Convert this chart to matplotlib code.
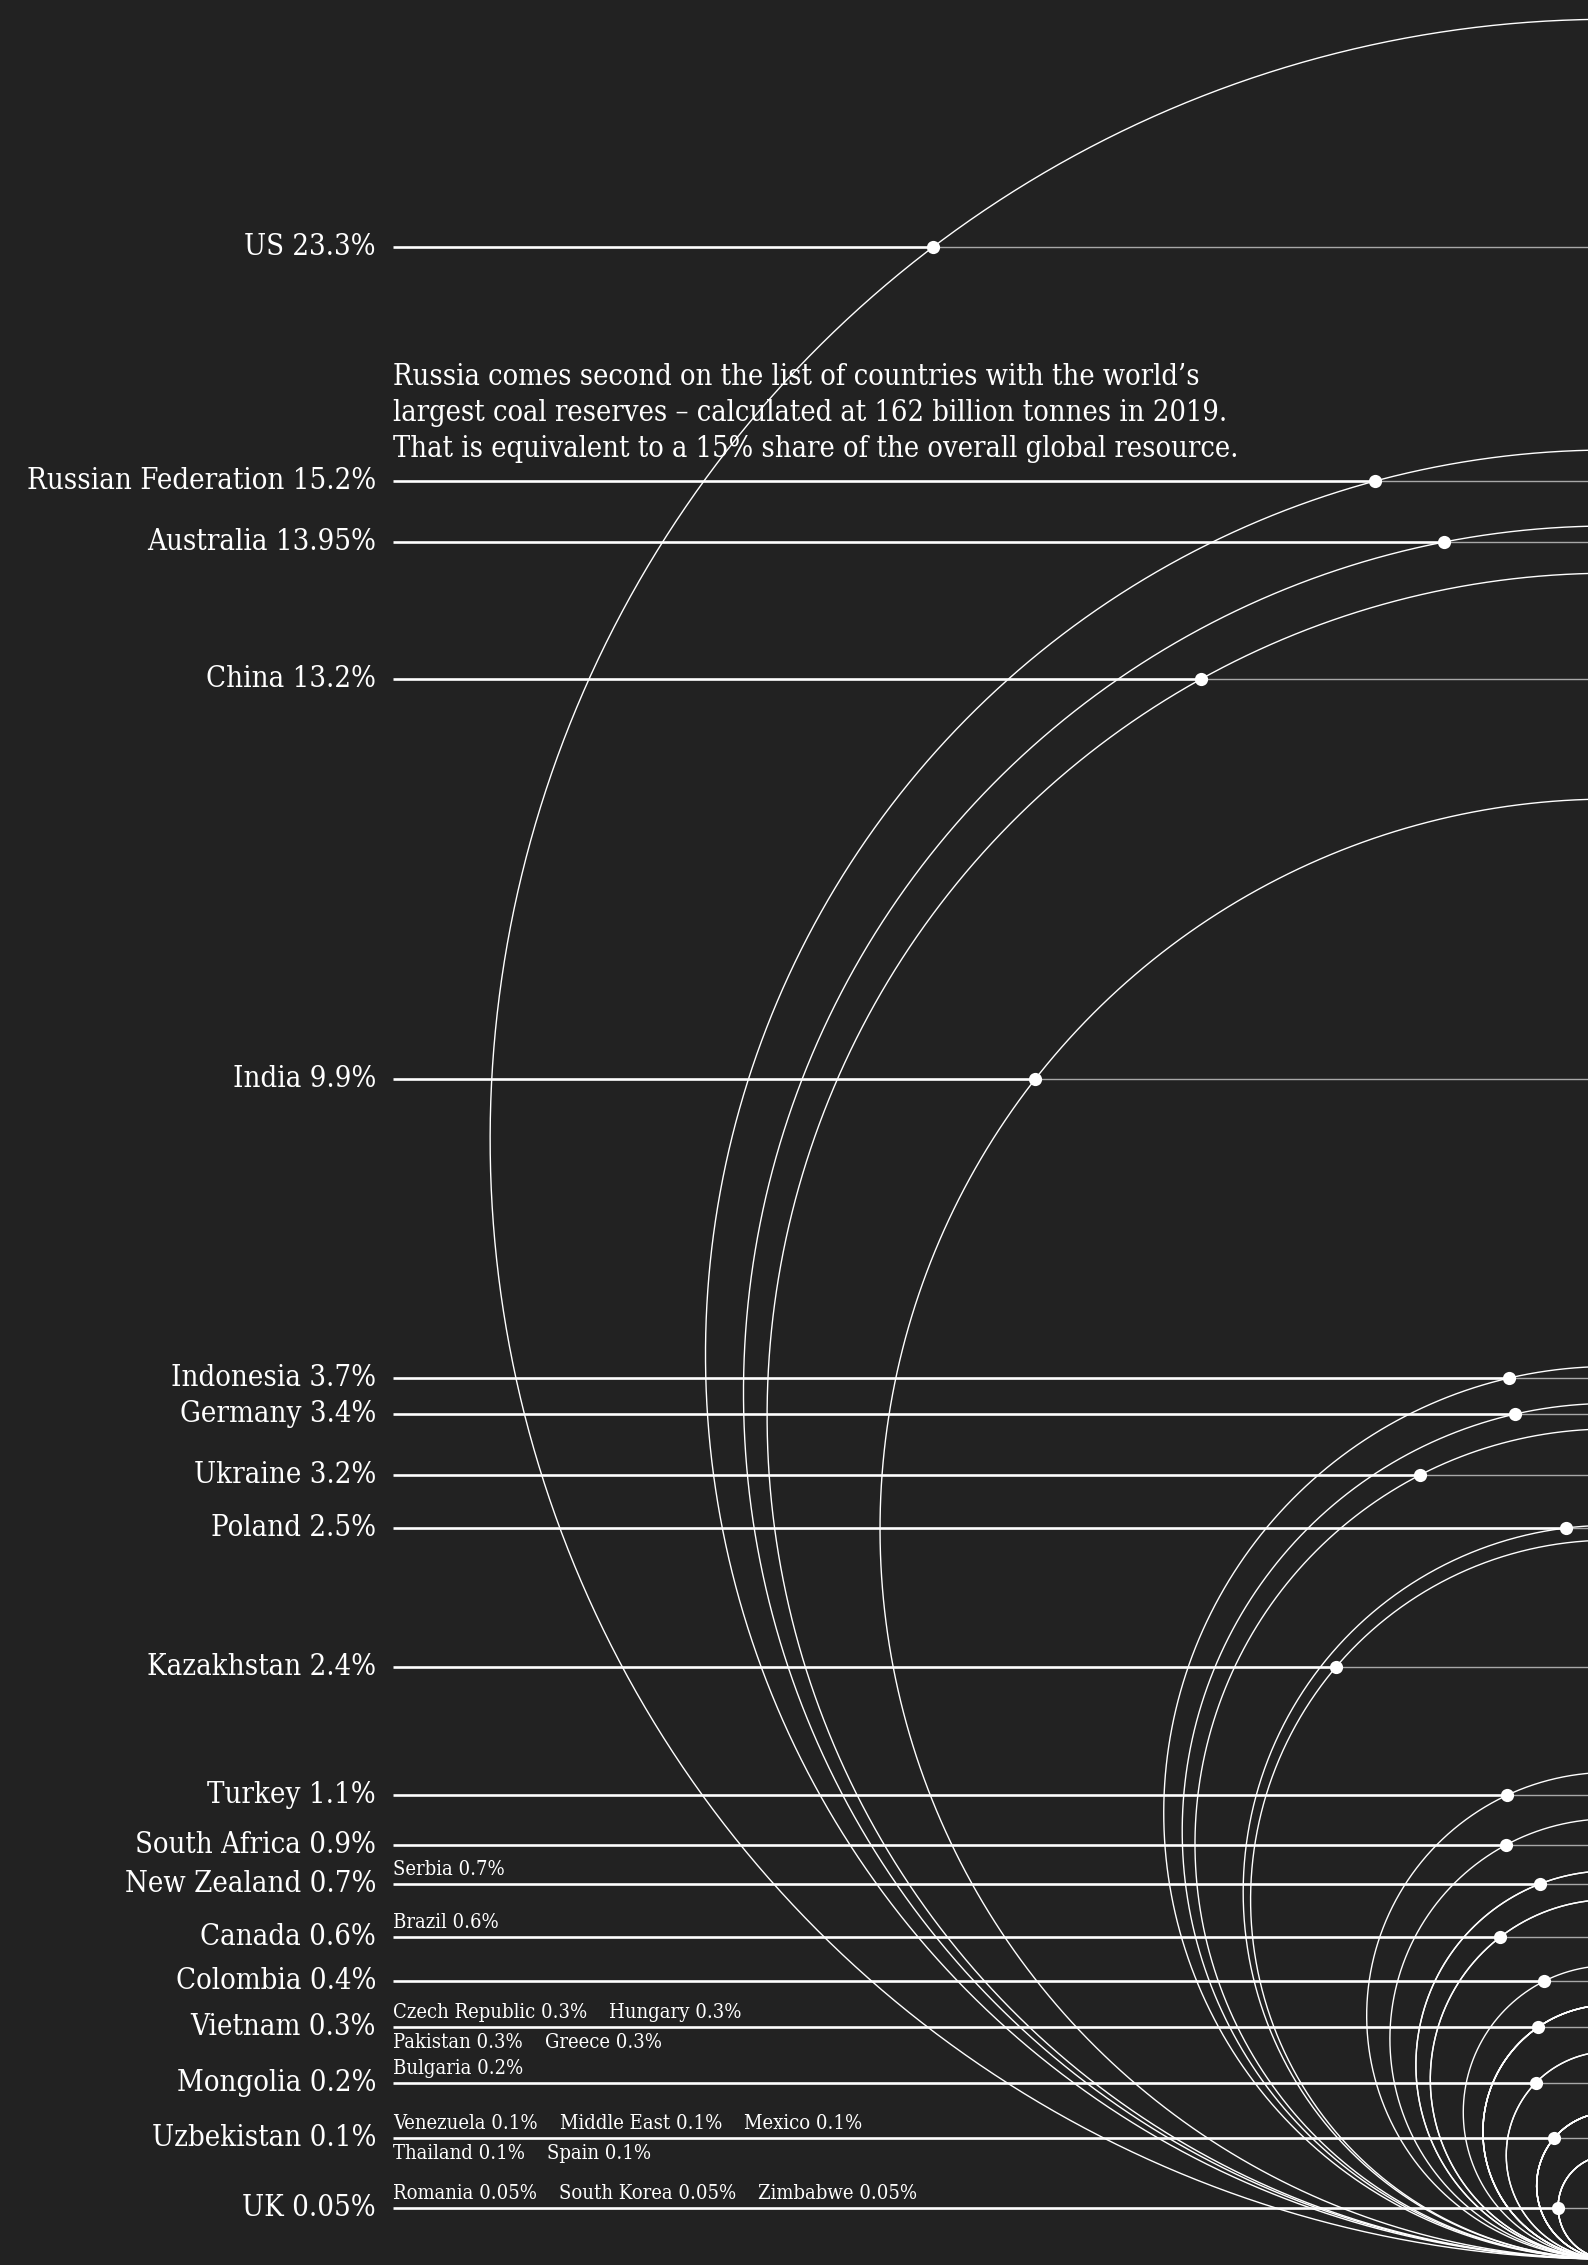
import numpy as np
import matplotlib
matplotlib.use('Agg')
import matplotlib.pyplot as plt
from matplotlib import font_manager

# share of global proved coal reserves, end of 2019 (%)
countries = ['US', 'Russian Federation', 'Australia', 'China', 'India',
             'Indonesia', 'Germany', 'Ukraine', 'Poland', 'Kazakhstan',
             'Turkey', 'South Africa', 'New Zealand', 'Canada', 'Colombia',
             'Vietnam', 'Mongolia', 'Uzbekistan', 'UK']
shares = [23.3, 15.2, 13.95, 13.2, 9.9,
          3.7, 3.4, 3.2, 2.5, 2.4,
          1.1, 0.9, 0.7, 0.6, 0.4,
          0.3, 0.2, 0.1, 0.05]

# smaller producers, written next to the row with the same share
minor_names = ['Serbia', 'Brazil', 'Czech Republic', 'Hungary', 'Pakistan',
               'Greece', 'Bulgaria', 'Venezuela', 'Middle East', 'Mexico',
               'Thailand', 'Spain', 'Romania', 'South Korea', 'Zimbabwe']
minor_shares = [0.7, 0.6, 0.3, 0.3, 0.3,
                0.3, 0.2, 0.1, 0.1, 0.1,
                0.1, 0.1, 0.05, 0.05, 0.05]
minor_row = ['New Zealand', 'Canada', 'Vietnam', 'Vietnam', 'Vietnam',
             'Vietnam', 'Mongolia', 'Uzbekistan', 'Uzbekistan', 'Uzbekistan',
             'Uzbekistan', 'Uzbekistan', 'UK', 'UK', 'UK']
minor_side = ['above', 'above', 'above', 'above', 'below',
              'below', 'above', 'above', 'above', 'above',
              'below', 'below', 'above', 'above', 'above']

note = ("Russia comes second on the list of countries with the world\u2019s\n"
        "largest coal reserves \u2013 calculated at 162 billion tonnes in 2019.\n"
        "That is equivalent to a 15% share of the overall global resource.")

# layout (pixel units, y down)
W, H = 1588, 2265
row_y = [247, 481, 542, 679, 1079,
         1378, 1414, 1475, 1528, 1667,
         1795, 1845, 1884, 1937, 1981,
         2027, 2083, 2138, 2208]
LINE_X0 = 393
LABEL_X = 376
CX = W + 22        # circle centres sit just off the right edge
BOTTOM = 2259      # every circle touches this y
RSCALE = 232.0     # radius per sqrt(percent)
BG = '#222222'

# font: condensed serif if we have one
fam = 'DejaVu Serif'
stretch = 'condensed'
path = font_manager.findfont(font_manager.FontProperties(family=fam, stretch=stretch))
if 'Condensed' not in path:
    names = {f.name for f in font_manager.fontManager.ttflist}
    if 'Liberation Sans Narrow' in names:
        fam, stretch = 'Liberation Sans Narrow', 'normal'
    else:
        fam, stretch = 'DejaVu Sans', 'condensed'

fig = plt.figure(figsize=(W / 100, H / 100), dpi=100)
fig.patch.set_facecolor(BG)
ax = fig.add_axes([0, 0, 1, 1])
ax.set_xlim(0, W)
ax.set_ylim(H, 0)
ax.axis('off')

def radius(v):
    return RSCALE * np.sqrt(v)

# arcs (left half of each circle), big ones first
theta = np.linspace(np.pi / 2, 3 * np.pi / 2, 600)
for v in sorted(shares + minor_shares, reverse=True):
    r = radius(v)
    cy = BOTTOM - r
    ax.plot(CX + r * np.cos(theta), cy + r * np.sin(theta),
            color='white', lw=1.0, solid_capstyle='butt', zorder=2)

# rows: label, thick line up to the arc, thin line after it, dot
for name, v, y in zip(countries, shares, row_y):
    r = radius(v)
    cy = BOTTOM - r
    dx = np.sqrt(max(r ** 2 - (y - cy) ** 2, 0))
    xd = CX - dx
    ax.plot([LINE_X0, xd], [y, y], color='white', lw=1.9,
            solid_capstyle='butt', zorder=3)
    ax.plot([xd, W], [y, y], color='#a8a8a8', lw=1.0, zorder=3)
    ax.plot([xd], [y], 'o', color='white', ms=9.5, mec='none', zorder=4)
    ax.text(LABEL_X, y, '{} {:g}%'.format(name, v), color='white',
            ha='right', va='center', fontsize=21, family=fam,
            fontstretch=stretch)

# small labels, laid out left to right along their row
fig.canvas.draw()
rend = fig.canvas.get_renderer()
cursor = {}
for name, v, row, side in zip(minor_names, minor_shares, minor_row, minor_side):
    y = row_y[countries.index(row)]
    key = (row, side)
    x = cursor.get(key, LINE_X0)
    if side == 'above':
        t = ax.text(x, y - 5, '{} {:g}%'.format(name, v), color='white',
                    ha='left', va='bottom', fontsize=14.5, family=fam,
                    fontstretch=stretch)
    else:
        t = ax.text(x, y + 6, '{} {:g}%'.format(name, v), color='white',
                    ha='left', va='top', fontsize=14.5, family=fam,
                    fontstretch=stretch)
    bb = t.get_window_extent(rend)
    cursor[key] = bb.x1 + 22

ax.text(LINE_X0, 363, note, color='white', ha='left', va='top',
        fontsize=20.8, family=fam, fontstretch=stretch, linespacing=1.36)

fig.savefig('out.png', dpi=100, facecolor=fig.get_facecolor())
